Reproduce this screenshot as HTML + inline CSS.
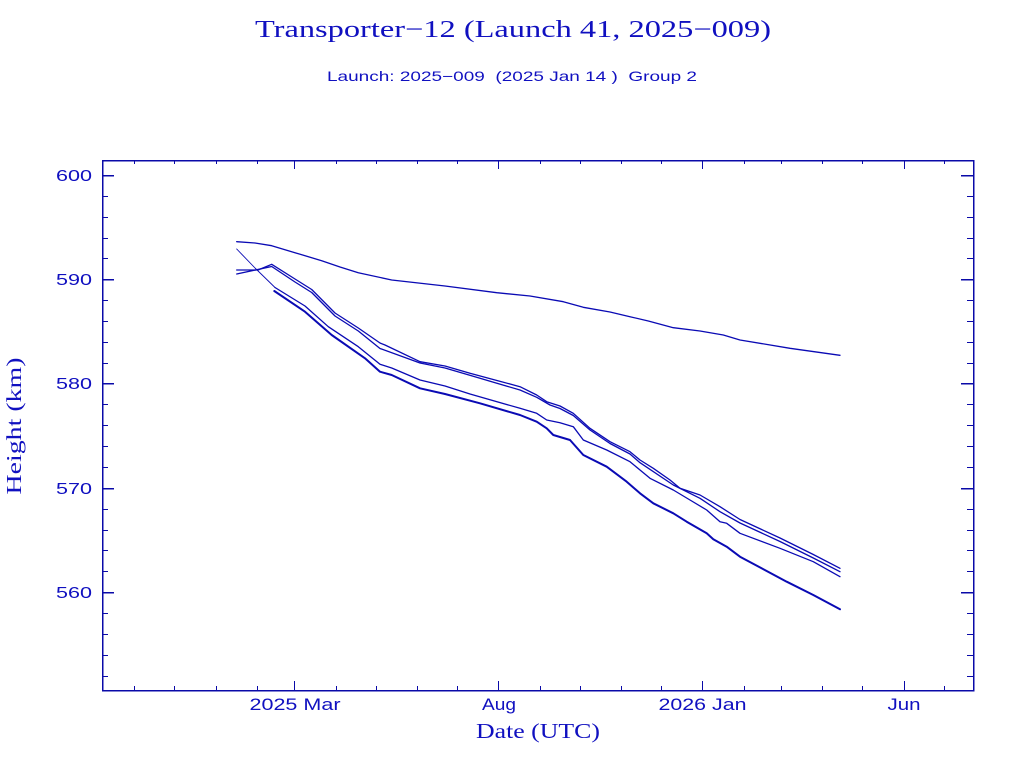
<!DOCTYPE html>
<html><head><meta charset="utf-8"><style>
html,body{margin:0;padding:0;background:#fff;}
svg{display:block;}
</style></head><body>
<svg width="1024" height="768" viewBox="0 0 1024 768" xmlns="http://www.w3.org/2000/svg">
<rect width="1024" height="768" fill="#fff"/>
<g fill="#1010c0">
<text x="513" y="37" font-family="Liberation Serif, serif" font-size="24" text-anchor="middle" textLength="516" lengthAdjust="spacingAndGlyphs">Transporter−12 (Launch 41, 2025−009)</text>
<text x="512" y="81" font-family="Liberation Sans, sans-serif" font-size="14" text-anchor="middle" textLength="370" lengthAdjust="spacingAndGlyphs" xml:space="preserve">Launch: 2025−009  (2025 Jan 14 )  Group 2</text>
<g font-family="Liberation Sans, sans-serif" font-size="16" text-anchor="end">
<text x="92" y="181" textLength="36" lengthAdjust="spacingAndGlyphs">600</text>
<text x="92" y="285" textLength="36" lengthAdjust="spacingAndGlyphs">590</text>
<text x="92" y="389" textLength="36" lengthAdjust="spacingAndGlyphs">580</text>
<text x="92" y="494" textLength="36" lengthAdjust="spacingAndGlyphs">570</text>
<text x="92" y="598" textLength="36" lengthAdjust="spacingAndGlyphs">560</text>
</g>
<g font-family="Liberation Sans, sans-serif" font-size="17" text-anchor="middle">
<text x="295" y="710" textLength="91" lengthAdjust="spacingAndGlyphs">2025 Mar</text>
<text x="499" y="710" textLength="34" lengthAdjust="spacingAndGlyphs">Aug</text>
<text x="702.5" y="710" textLength="88" lengthAdjust="spacingAndGlyphs">2026 Jan</text>
<text x="904" y="710" textLength="33" lengthAdjust="spacingAndGlyphs">Jun</text>
</g>
<text x="538" y="738" font-family="Liberation Serif, serif" font-size="21" text-anchor="middle" textLength="124" lengthAdjust="spacingAndGlyphs">Date (UTC)</text>
<text transform="translate(21,426) rotate(-90)" x="0" y="0" font-family="Liberation Serif, serif" font-size="21" text-anchor="middle" textLength="137" lengthAdjust="spacingAndGlyphs">Height (km)</text>
</g>
<g stroke="#0a0aa8" stroke-width="1.5" fill="none" shape-rendering="crispEdges">
<rect x="102.5" y="160.5" width="871" height="530"/>
<path d="M102 175.5h12M102 279.5h12M102 383.5h12M102 488.5h12M102 592.5h12
M973 175.5h-12M973 279.5h-12M973 383.5h-12M973 488.5h-12M973 592.5h-12"/>
<path stroke-width="1.2" d="
M102 196.5h6M102 217.5h6M102 238.5h6M102 258.5h6
M102 300.5h6M102 321.5h6M102 342.5h6M102 363.5h6
M102 404.5h6M102 425.5h6M102 446.5h6M102 467.5h6
M102 509.5h6M102 530.5h6M102 550.5h6M102 571.5h6
M102 613.5h6M102 634.5h6M102 655.5h6M102 676.5h6
M973 196.5h-6M973 217.5h-6M973 238.5h-6M973 258.5h-6
M973 300.5h-6M973 321.5h-6M973 342.5h-6M973 363.5h-6
M973 404.5h-6M973 425.5h-6M973 446.5h-6M973 467.5h-6
M973 509.5h-6M973 530.5h-6M973 550.5h-6M973 571.5h-6
M973 613.5h-6M973 634.5h-6M973 655.5h-6M973 676.5h-6"/>
<path stroke-width="1.2" d="
M134.5 690v-4M174.5 690v-4M216.5 690v-4M257.5 690v-4M336.5 690v-4M376.5 690v-4M417.5 690v-4M457.5 690v-4
M540.5 690v-4M580.5 690v-4M621.5 690v-4M661.5 690v-4M744.5 690v-4M781.5 690v-4M822.5 690v-4M862.5 690v-4M944.5 690v-4
M134.5 160v4M174.5 160v4M216.5 160v4M257.5 160v4M336.5 160v4M376.5 160v4M417.5 160v4M457.5 160v4
M540.5 160v4M580.5 160v4M621.5 160v4M661.5 160v4M744.5 160v4M781.5 160v4M822.5 160v4M862.5 160v4M944.5 160v4
M294.5 690v-9M498.5 690v-9M702.5 690v-9M904.5 690v-9
M294.5 160v9M498.5 160v9M702.5 160v9M904.5 160v9"/>
</g>
<g stroke="#0a0ab4" fill="none" stroke-linejoin="round" stroke-linecap="round">
<polyline stroke-width="1.3" points="236.7,241.7 255,243 271.7,245.7 295,252.7 321.7,260.7 340,267 358.3,272.7 391.7,280 445,286 496.7,292.7 530,296 563.3,301.7 583.3,307.3 610,312 630,316.7 648.3,321 673.3,327.7 700,331 723.3,335 740,340 790,348.3 840,355.3"/>
<polyline stroke-width="1.3" points="236.7,270 258,270 271.7,264.3 295,279 311.7,289.5 335,313 358.3,328 380,343 385,345 420,361.7 445,366 470,373.3 520,386.7 536.7,395 546.7,401.7 560,406 573.3,413.3 590,428.3 610,441.7 630,451.7 640,460 653.3,468.3 670,480 680,488.3 700,495 720,506.7 740,519.5 780,538 813.3,554.5 840,568.3"/>
<polyline stroke-width="1.3" points="236.7,274 271.7,266.5 295,282 311.7,292.5 335,316 358.3,331 380,348.5 420,363 445,368 480,378.3 520,390 536.7,397.3 550,405 560,408.5 573.3,415.5 590,430 610,443.5 630,454 640,462.7 673.3,485 700,498.3 720,511.7 740,523 780,541.5 813.3,558 840,571.7"/>
<polyline stroke-width="0.9" points="236.7,249 255,268 275,287.5"/>
<polyline stroke-width="1.3" points="275,287.5 305,306 328.3,326.7 358.3,346.7 380,364.3 391.7,368 420,380 445,386 470,394 520,408.3 536.7,413.3 546.7,420 560,422.7 573.3,426.7 583.3,440 606.7,450 630,461.7 640,470 650,478.3 673.3,490 690,500 706.7,510 720,521.7 726.7,523.3 740,533.3 780,548.3 813.3,561.7 840,576.7"/>
<polyline stroke-width="2" points="274.3,291 305,311.7 331.7,335 365,358.3 380,371.7 391.7,375 420,388.3 445,394 480,403.3 520,415 536.7,421.7 546.7,428.3 553.3,435 570,440 583.3,455 606.7,466.7 626.7,481.7 640,493.3 653.3,503.3 673.3,513.3 686.7,521.7 706.7,533.3 713.3,539.3 726.7,546.7 740,556.7 786.7,581.7 813.3,595 840,609.3"/>
</g>
</svg>
</body></html>
